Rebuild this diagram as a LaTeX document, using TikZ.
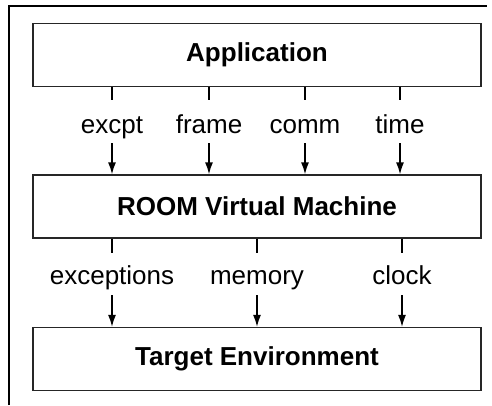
\documentclass[tikz,border=0pt]{standalone}
\usepackage{fontspec}
\setmainfont{Liberation Sans}
\usetikzlibrary{arrows.meta}
\begin{document}
\begin{tikzpicture}[x=1pt,y=-1pt,
  layer/.style={draw=black!85,line width=1.2pt,minimum width=448pt,minimum height=63pt,
    inner sep=0pt,font=\fontsize{26}{30}\selectfont\bfseries},
  ifacetop/.style={inner sep=0pt,text height=33pt,text depth=10pt,font=\fontsize{26}{30}\selectfont},
  ifacebot/.style={inner sep=0pt,text height=31pt,text depth=11pt,font=\fontsize{26}{30}\selectfont},
  link/.style={line width=1.5pt},
  flow/.style={line width=1.5pt,-{Latex[length=12pt,width=8pt]}}]
\useasboundingbox (0,0) rectangle (492,405);
% outer frame
\coordinate (fbl) at (9,405);
\coordinate (ftl) at (9,6);
\coordinate (ftr) at (487,6);
\draw[line width=2pt] (fbl) -- (ftl) -- (ftr);
% layers
\node[layer] (app) at (257,55) {Application};
\node[layer] (vm) at (257,206.5) {ROOM Virtual Machine};
\node[layer] (tgt) at (257,359) {Target Environment};
% interfaces between application and virtual machine
\node[ifacetop] (excpt) at (112,100) [anchor=north] {excpt};
\node[ifacetop] (frame) at (209,100) [anchor=north] {frame};
\node[ifacetop] (comm) at (305,100) [anchor=north] {comm};
\node[ifacetop] (time) at (400,100) [anchor=north] {time};
\foreach \n in {excpt,frame,comm,time}{
  \draw[link] (app.south -| \n) -- (\n.north);
  \draw[flow] (\n.south) -- (vm.north -| \n);
}
% interfaces between virtual machine and target
\node[ifacebot] (exc) at (112,253) [anchor=north] {exceptions};
\node[ifacebot] (mem) at (257,253) [anchor=north] {memory};
\node[ifacebot] (clk) at (402,253) [anchor=north] {clock};
\foreach \n in {exc,mem,clk}{
  \draw[link] (vm.south -| \n) -- (\n.north);
  \draw[flow] (\n.south) -- (tgt.north -| \n);
}
\end{tikzpicture}
\end{document}
